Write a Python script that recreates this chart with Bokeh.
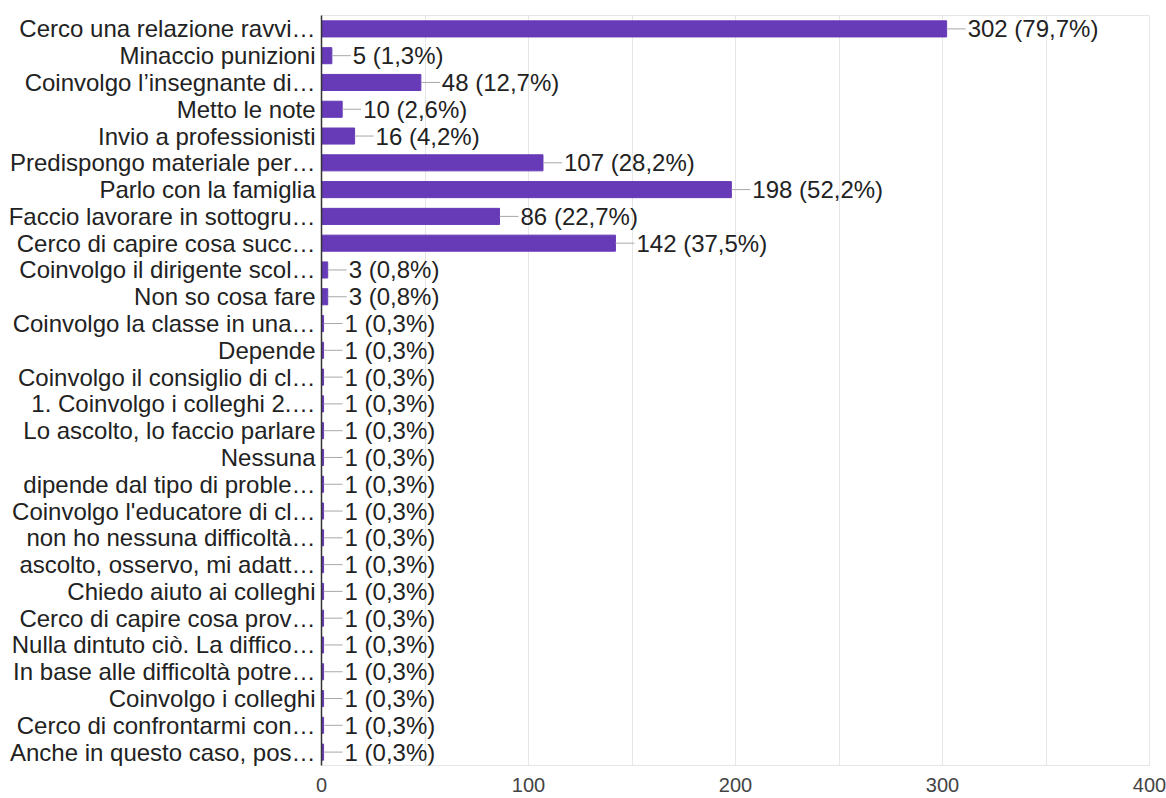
from bokeh.plotting import figure
from bokeh.models import FactorRange, Range1d, FixedTicker, ColumnDataSource
from bokeh.embed import file_html
from bokeh.resources import INLINE
from bokeh.core.properties import value

# Survey answers (truncated as displayed), counts and percentages
answers = [
    "Cerco una relazione ravvi…",
    "Minaccio punizioni",
    "Coinvolgo l’insegnante di…",
    "Metto le note",
    "Invio a professionisti",
    "Predispongo materiale per…",
    "Parlo con la famiglia",
    "Faccio lavorare in sottogru…",
    "Cerco di capire cosa succ…",
    "Coinvolgo il dirigente scol…",
    "Non so cosa fare",
    "Coinvolgo la classe in una…",
    "Depende",
    "Coinvolgo il consiglio di cl…",
    "1. Coinvolgo i colleghi 2.…",
    "Lo ascolto, lo faccio parlare",
    "Nessuna",
    "dipende dal tipo di proble…",
    "Coinvolgo l'educatore di cl…",
    "non ho nessuna difficoltà…",
    "ascolto, osservo, mi adatt…",
    "Chiedo aiuto ai colleghi",
    "Cerco di capire cosa prov…",
    "Nulla dintuto ciò. La diffico…",
    "In base alle difficoltà potre…",
    "Coinvolgo i colleghi",
    "Cerco di confrontarmi con…",
    "Anche in questo caso, pos…",
]
counts = [302, 5, 48, 10, 16, 107, 198, 86, 142, 3, 3,
          1, 1, 1, 1, 1, 1, 1, 1, 1, 1, 1, 1, 1, 1, 1, 1, 1]
percents = [79.7, 1.3, 12.7, 2.6, 4.2, 28.2, 52.2, 22.7, 37.5, 0.8, 0.8,
            0.3, 0.3, 0.3, 0.3, 0.3, 0.3, 0.3, 0.3, 0.3, 0.3, 0.3, 0.3, 0.3, 0.3, 0.3, 0.3, 0.3]
x_ticks = [0, 100, 200, 300, 400]
grid_ticks = [0, 50, 100, 150, 200, 250, 300, 350, 400]

labels = [f"{c} ({p:.1f}%)".replace(".", ",") for c, p in zip(counts, percents)]
src = ColumnDataSource(dict(answer=answers, count=counts, label=labels))

FONT = "Liberation Sans"
PURPLE = "#673ab7"
SIZE = "24px"

p = figure(
    width=1166, height=798,
    y_range=FactorRange(factors=list(reversed(answers))),
    x_range=Range1d(0, 400),
    output_backend="svg", toolbar_location=None,
    min_border_left=321, min_border_right=17,
    min_border_top=15, min_border_bottom=33,
)

p.hbar(y="answer", right="count", left=0, height=0.6, source=src,
       fill_color=PURPLE, line_color=PURPLE)

# short leader line from the bar end to its value label
p.ray(x="count", y="answer", length=19, length_units="screen", angle=0,
      source=src, line_color="#a8a8a8", line_width=1)
p.text(x="count", y="answer", text="label", source=src, x_offset=21,
       text_baseline="middle", text_align="left",
       text_font=value(FONT), text_font_size=SIZE, text_color="#222222")

# axes
p.xaxis.ticker = FixedTicker(ticks=x_ticks)
p.xaxis.axis_line_color = None
p.xaxis.major_tick_line_color = None
p.xaxis.minor_tick_line_color = None
p.xaxis.major_label_text_font = FONT
p.xaxis.major_label_text_font_size = "20px"
p.xaxis.major_label_text_color = "#444444"
p.xaxis.major_label_standoff = 6

p.yaxis.axis_line_color = "#333333"
p.yaxis.axis_line_width = 1.5
p.yaxis.major_tick_line_color = None
p.yaxis.minor_tick_line_color = None
p.yaxis.major_label_text_font = FONT
p.yaxis.major_label_text_font_size = SIZE
p.yaxis.major_label_text_color = "#222222"
p.yaxis.major_label_standoff = 0

p.xgrid.ticker = FixedTicker(ticks=grid_ticks)
p.xgrid.grid_line_color = "#e6e6e6"
p.ygrid.grid_line_color = None
p.outline_line_color = "#e6e6e6"

open("out.html", "w").write(file_html(p, INLINE))
